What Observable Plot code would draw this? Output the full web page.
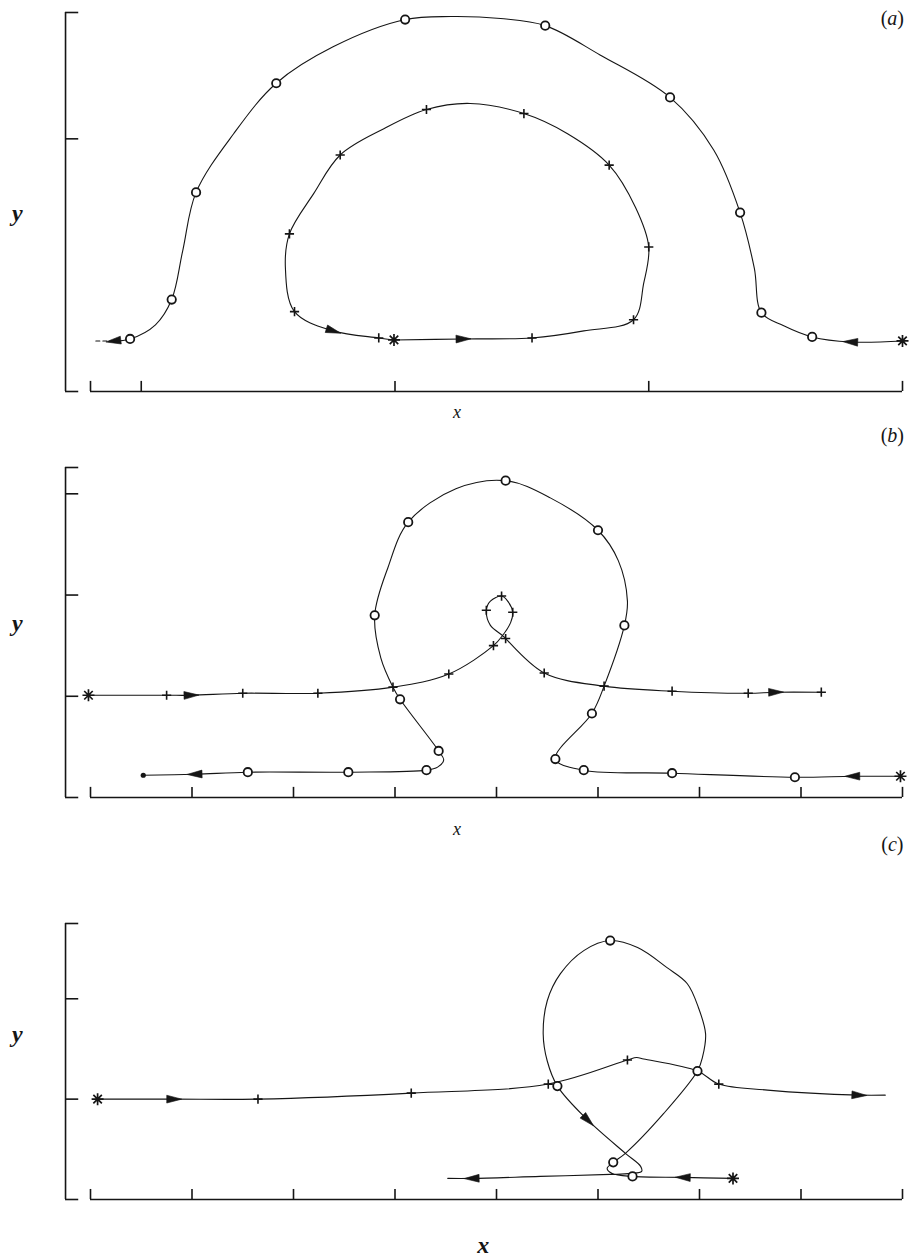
<!DOCTYPE html>
<html>
<head>
<meta charset="utf-8">
<script src="https://cdn.jsdelivr.net/npm/d3@7"></script>
<script src="https://cdn.jsdelivr.net/npm/@observablehq/plot@0.6"></script>
<style>
  body { margin: 0; background: #fff; }
  #fig { width: 911px; height: 1258px; background: #fff; }
  #fig svg { display: block; }
</style>
</head>
<body>
<div id="fig"></div>
<script>
// Trajectories as [x, y, marker]; marker: "*" start, "o" circle, "+" cross,
// ">" arrowhead (direction of travel), "." end dot, "" plain path point.

// (a) outer (circles) and inner (crosses) paths
const aOuter = [
  [8.00, 0.50, "*"], [7.49, 0.49, ">"], [7.11, 0.54, "o"], [6.83, 0.65, ""],
  [6.61, 0.78, "o"], [6.54, 1.22, ""], [6.40, 1.77, "o"], [6.14, 2.39, ""],
  [5.71, 2.91, "o"], [5.02, 3.33, ""], [4.48, 3.62, "o"], [4.04, 3.69, ""],
  [3.55, 3.71, ""], [3.10, 3.68, "o"], [2.39, 3.41, ""], [1.83, 3.05, "o"],
  [1.41, 2.55, ""], [1.04, 1.97, "o"], [0.91, 1.40, ""], [0.80, 0.91, "o"],
  [0.64, 0.66, ""], [0.39, 0.52, "o"], [0.23, 0.50, ">"]
];
const aOuterTail = [[0.23, 0.50, ""], [0.03, 0.50, ""]];
const aInner = [
  [2.99, 0.51, "*"], [3.67, 0.52, ">"], [4.35, 0.53, "+"], [4.86, 0.60, ""],
  [5.35, 0.71, "+"], [5.45, 1.07, ""], [5.50, 1.43, "+"], [5.37, 1.82, ""],
  [5.11, 2.24, "+"], [4.70, 2.55, ""], [4.27, 2.75, "+"], [3.74, 2.85, ""],
  [3.31, 2.79, "+"], [2.89, 2.60, ""], [2.46, 2.34, "+"], [2.20, 1.96, ""],
  [1.96, 1.56, "+"], [1.92, 1.23, ""], [2.01, 0.79, "+"], [2.39, 0.60, ">"],
  [2.84, 0.53, "+"], [2.99, 0.51, ""]
];

// (b) crosses path (left to right, with a curl) and circles path (right to left)
const bCross = [
  [-0.02, 1.01, "*"], [0.75, 1.01, "+"], [0.99, 1.01, ">"], [1.50, 1.03, "+"],
  [2.24, 1.03, "+"], [2.98, 1.09, "+"], [3.53, 1.22, "+"], [3.97, 1.50, "+"],
  [4.06, 1.60, ""], [4.14, 1.73, ""], [4.16, 1.83, "+"], [4.11, 1.94, ""],
  [4.05, 1.99, "+"], [3.94, 1.94, ""], [3.90, 1.85, "+"], [3.94, 1.70, ""],
  [4.06, 1.60, ""], [4.09, 1.57, "+"], [4.47, 1.23, "+"], [5.06, 1.10, "+"],
  [5.73, 1.05, "+"], [6.48, 1.03, "+"], [6.75, 1.04, ">"], [7.20, 1.04, "+"]
];
const bCircle = [
  [7.98, 0.21, "*"], [7.51, 0.21, ">"], [6.94, 0.20, "o"], [5.73, 0.24, "o"],
  [4.86, 0.27, "o"], [4.58, 0.38, "o"], [4.94, 0.83, "o"], [5.06, 1.10, ""],
  [5.26, 1.70, "o"], [5.29, 1.94, ""], [5.20, 2.34, ""], [5.00, 2.64, "o"],
  [4.53, 2.96, ""], [4.09, 3.13, "o"], [3.60, 3.05, ""], [3.13, 2.72, "o"],
  [2.93, 2.27, ""], [2.80, 1.80, "o"], [2.86, 1.38, ""], [2.98, 1.09, ""],
  [3.05, 0.97, "o"], [3.43, 0.46, "o"], [3.48, 0.37, ""], [3.42, 0.30, ""],
  [3.31, 0.27, "o"], [2.54, 0.25, "o"], [1.55, 0.25, "o"], [1.03, 0.23, ">"],
  [0.52, 0.22, "."]
];

// (c) crosses path (left to right, peaked) and circles path (loop, right to left)
const cCross = [
  [0.07, 1.00, "*"], [0.82, 1.00, ">"], [1.65, 1.00, "+"], [3.16, 1.06, "+"],
  [4.51, 1.15, "+"], [5.29, 1.39, "+"], [5.38, 1.415, ""], [5.45, 1.40, ""],
  [5.98, 1.28, ""], [6.19, 1.15, "+"], [6.67, 1.09, ""], [7.57, 1.04, ">"],
  [7.83, 1.04, ""]
];
const cCircle = [
  [6.33, 0.21, "*"], [5.84, 0.22, ">"], [5.34, 0.23, "o"], [5.14, 0.26, ""],
  [5.09, 0.31, ""], [5.15, 0.37, "o"], [5.27, 0.46, ""], [5.65, 0.86, ""],
  [5.98, 1.28, "o"], [6.03, 1.42, ""], [6.06, 1.65, ""], [5.99, 1.91, ""],
  [5.88, 2.15, ""], [5.68, 2.31, ""], [5.39, 2.51, ""], [5.12, 2.58, "o"],
  [4.86, 2.48, ""], [4.63, 2.25, ""], [4.50, 1.98, ""], [4.46, 1.65, ""],
  [4.50, 1.38, ""], [4.60, 1.13, "o"], [4.90, 0.79, ">"], [5.27, 0.46, ""],
  [5.42, 0.33, ""], [5.43, 0.28, ""], [5.32, 0.26, ""], [5.12, 0.25, ""],
  [4.43, 0.23, ""], [3.76, 0.21, ">"], [3.52, 0.21, ""]
];

// Axis tick values
const aXTicks = [0, 0.5, 3, 5.5, 8];
const aYTicks = [0, 2.5, 3.75];
const bXTicks = [0, 1, 2, 3, 4, 5, 6, 7, 8];
const bYTicks = [0, 1, 2, 3, 3.26];
const cXTicks = [0, 1, 2, 3, 4, 5, 6, 7, 8];
const cYTicks = [0, 1, 2, 2.75];

// Panel tags and axis names
const panelTags = ["a", "b", "c"];
const axisNames = {x: "x", y: "y"};

const INK = "#151515";
const X_RANGE = [90, 902];
const KX = (X_RANGE[1] - X_RANGE[0]) / 8;
const Y_AXIS_X = -0.246;   // the y axis sits left of the x axis start
const Y_TICK_LEN = 0.13;
const X_TICK_LEN = 0.1;

// filled arrowhead pointing along +x, rotated per point
const arrowHead = {
  draw(ctx) {
    ctx.moveTo(8, 0);
    ctx.lineTo(-7, -3.9);
    ctx.lineTo(-7, 3.9);
    ctx.closePath();
  }
};
// eight-armed asterisk for start points
const starMark = {
  draw(ctx) {
    const r = 6;
    for (let k = 0; k < 4; ++k) {
      const a = (k * Math.PI) / 4;
      ctx.moveTo(-r * Math.cos(a), -r * Math.sin(a));
      ctx.lineTo(r * Math.cos(a), r * Math.sin(a));
    }
  }
};
// upright cross for the crosses path
const crossMark = {
  draw(ctx) {
    const r = 4.6;
    ctx.moveTo(-r, 0);
    ctx.lineTo(r, 0);
    ctx.moveTo(0, -r);
    ctx.lineTo(0, r);
  }
};

function trajectory(pts, ky, {dashed = false} = {}) {
  const rows = pts.map(([x, y, m]) => ({x, y, m}));
  const marks = [
    Plot.line(rows, {x: "x", y: "y", curve: "catmull-rom", stroke: INK, strokeWidth: 1.1,
      strokeDasharray: dashed ? "4,3" : null})
  ];
  if (dashed) return marks;
  const arrows = rows
    .map((d, i) => {
      const p = rows[i - 1] || d, n = rows[i + 1] || d;
      const angle = (Math.atan2(-(n.y - p.y) * ky, (n.x - p.x) * KX) * 180) / Math.PI;
      return {...d, angle};
    })
    .filter((d) => d.m === ">");
  marks.push(
    Plot.dot(arrows, {x: "x", y: "y", rotate: "angle", symbol: arrowHead, r: 5, fill: INK, stroke: INK, strokeWidth: 0.6}),
    Plot.dot(rows.filter((d) => d.m === "o"), {x: "x", y: "y", r: 4.2, fill: "white", stroke: INK, strokeWidth: 1.8}),
    Plot.dot(rows.filter((d) => d.m === "+"), {x: "x", y: "y", symbol: crossMark, r: 5, fill: "none", stroke: INK, strokeWidth: 1.6}),
    Plot.dot(rows.filter((d) => d.m === "*"), {x: "x", y: "y", symbol: starMark, r: 5, stroke: INK, strokeWidth: 1.7, fill: "none"}),
    Plot.dot(rows.filter((d) => d.m === "."), {x: "x", y: "y", r: 2.6, fill: INK, stroke: "none"})
  );
  return marks;
}

const SERIF = "'Liberation Serif', 'DejaVu Serif', serif";

function panel(cfg) {
  const {height, yTop, yRange, xTicks, yTicks, paths, tag, tagY, yLabelY, xLabel} = cfg;
  const marks = [
    // y axis bracket with inward ticks
    Plot.ruleX([Y_AXIS_X], {y1: 0, y2: yTop, stroke: INK, strokeWidth: 1.6}),
    Plot.ruleY(yTicks, {x1: Y_AXIS_X, x2: Y_AXIS_X + Y_TICK_LEN, stroke: INK, strokeWidth: 1.6}),
    // x axis with upward ticks
    Plot.ruleY([0], {x1: 0, x2: 8, stroke: INK, strokeWidth: 1.6}),
    Plot.ruleX(xTicks, {y1: 0, y2: X_TICK_LEN, stroke: INK, strokeWidth: 1.6}),
    ...paths.flat(),
    Plot.text([axisNames.y], {x: -0.72, y: yLabelY, text: (d) => d, fontFamily: SERIF, fontStyle: "italic",
      fontWeight: "bold", fontSize: 24, fill: INK}),
    Plot.text([axisNames.x], {x: xLabel.x, y: xLabel.y, text: (d) => d, fontFamily: SERIF, fontStyle: "italic",
      fontSize: xLabel.size, fontWeight: xLabel.weight, fill: INK}),
    Plot.text([tag], {x: 7.9, y: tagY, text: (d) => d, fontFamily: SERIF, fontSize: 20, fill: INK,
      className: "panel-tag"})
  ];
  const svg = Plot.plot({
    width: 911,
    height,
    margin: 0,
    x: {domain: [0, 8], range: X_RANGE, axis: null},
    y: {domain: [0, yTop], range: yRange, axis: null},
    style: {background: "white", overflow: "visible"},
    marks
  });
  // panel tag: upright parentheses around an italic letter
  svg.querySelectorAll("g.panel-tag text").forEach((t) => {
    const letter = t.textContent;
    t.textContent = "";
    const ns = "http://www.w3.org/2000/svg";
    const open = document.createElementNS(ns, "tspan");
    open.textContent = "(";
    const mid = document.createElementNS(ns, "tspan");
    mid.setAttribute("font-style", "italic");
    mid.textContent = letter;
    const close = document.createElementNS(ns, "tspan");
    close.textContent = ")";
    t.append(open, mid, close);
  });
  return svg;
}

const fig = document.getElementById("fig");

const kyA = (391 - 12) / 3.75;
fig.append(panel({
  height: 425, yTop: 3.75, yRange: [391, 12],
  xTicks: aXTicks, yTicks: aYTicks,
  paths: [trajectory(aOuter, kyA), trajectory(aOuterTail, kyA, {dashed: true}), trajectory(aInner, kyA)],
  tag: panelTags[0], tagY: 3.69, yLabelY: 1.76,
  xLabel: {x: 3.61, y: -0.21, size: 18, weight: "normal"}
}));

const kyB = (372 - 42) / 3.26;
fig.append(panel({
  height: 410, yTop: 3.26, yRange: [372, 42],
  xTicks: bXTicks, yTicks: bYTicks,
  paths: [trajectory(bCross, kyB), trajectory(bCircle, kyB)],
  tag: panelTags[1], tagY: 3.58, yLabelY: 1.72,
  xLabel: {x: 3.61, y: -0.31, size: 18, weight: "normal"}
}));

const kyC = (364 - 88) / 2.75;
fig.append(panel({
  height: 423, yTop: 2.75, yRange: [364, 88],
  xTicks: cXTicks, yTicks: cYTicks,
  paths: [trajectory(cCross, kyC), trajectory(cCircle, kyC)],
  tag: panelTags[2], tagY: 3.54, yLabelY: 1.65,
  xLabel: {x: 3.87, y: -0.46, size: 24, weight: "bold"}
}));
</script>
</body>
</html>
